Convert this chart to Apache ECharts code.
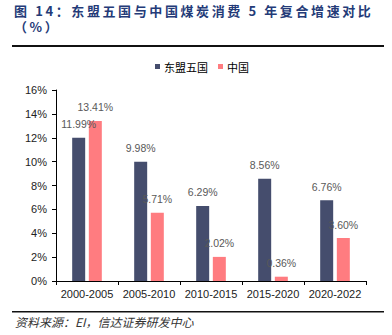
<!DOCTYPE html>
<html><head><meta charset="utf-8">
<script src="https://cdn.jsdelivr.net/npm/echarts@6/dist/echarts.min.js"></script>
<style>
html,body{margin:0;padding:0;background:#fff;}
#wrap{position:relative;width:392px;height:335px;overflow:hidden;}
#title{position:absolute;left:14px;top:3px;width:375px;font-family:"Noto Sans CJK SC","Liberation Sans",sans-serif;font-weight:bold;font-size:13px;line-height:16px;letter-spacing:2.6px;color:#243b78;}
#chart{position:absolute;left:0;top:0;width:392px;height:335px;}
</style></head>
<body><div id="wrap"><div id="chart"></div><div id="title">图 14：东盟五国与中国煤炭消费 5 年复合增速对比（%）</div></div>
<script>
var categories = ['2000-2005','2005-2010','2010-2015','2015-2020','2020-2022'];
var seriesNames = ['东盟五国','中国'];
var aseanValues = [11.99, 9.98, 6.29, 8.56, 6.76];
var chinaValues = [13.41, 5.71, 2.02, 0.36, 3.60];
var sourceText = '资料来源：EI，信达证券研发中心';

var BAR_W = 13, GAP = 0.28;
function labelSeries(values, side){
  return {type:'custom', z:10, silent:true, tooltip:{show:false},
    data: values.map(function(v,i){return [i,v];}),
    renderItem:function(params, api){
      var p = api.coord([api.value(0), api.value(1)]);
      var off = side*(BAR_W*(1+GAP))/2;
      return {type:'text', x:p[0]+off, y:p[1]-8,
        style:{text:api.value(1).toFixed(2)+'%', fill:'#595959', fontSize:10.5,
          fontFamily:'Liberation Sans, Arial, sans-serif', align:'center', verticalAlign:'bottom'}};
    }};
}

var chart = echarts.init(document.getElementById('chart'), null, {renderer:'svg'});
chart.setOption({
  animation:false,
  backgroundColor:'#fff',
  grid:{left:56, right:26, top:90, bottom:54},
  legend:{top:56, left:150, itemWidth:5, itemHeight:5, itemGap:10, icon:'rect',
    textStyle:{fontSize:11, color:'#000', fontFamily:'Noto Sans CJK SC, sans-serif', padding:[0,0,0,-1]},
    data:seriesNames},
  xAxis:{type:'category', data:categories,
    axisLine:{lineStyle:{color:'#000', width:1}},
    axisTick:{show:true, length:4, lineStyle:{color:'#000'}},
    axisLabel:{interval:0, fontSize:11, color:'#222', margin:7, fontFamily:'Liberation Sans, Arial, sans-serif'}},
  yAxis:{type:'value', min:0, max:16, interval:2,
    axisLine:{show:true, lineStyle:{color:'#000', width:1}},
    axisTick:{show:true, length:4, lineStyle:{color:'#000'}},
    splitLine:{show:false},
    axisLabel:{fontSize:11, color:'#222', margin:9, formatter:'{value}%', fontFamily:'Liberation Sans, Arial, sans-serif'}},
  series:[
    {name:seriesNames[0], type:'bar', data:aseanValues, barWidth:BAR_W, barGap:(GAP*100)+'%',
     itemStyle:{color:'#454d6d'}},
    {name:seriesNames[1], type:'bar', data:chinaValues, barWidth:BAR_W,
     itemStyle:{color:'#ff7c80'}},
    labelSeries(aseanValues, -1),
    labelSeries(chinaValues, 1)
  ],
  graphic:[
    {type:'rect', shape:{x:12, y:45, width:372, height:2}, style:{fill:'#111'}, silent:true},
    {type:'rect', shape:{x:12, y:311, width:372, height:1.5}, style:{fill:'#111'}, silent:true},
    {type:'text', left:15, top:315, style:{text:sourceText, fontSize:12, fontStyle:'italic', fill:'#333',
      fontFamily:'Noto Sans CJK SC, sans-serif'}}
  ]
});
</script></body></html>
